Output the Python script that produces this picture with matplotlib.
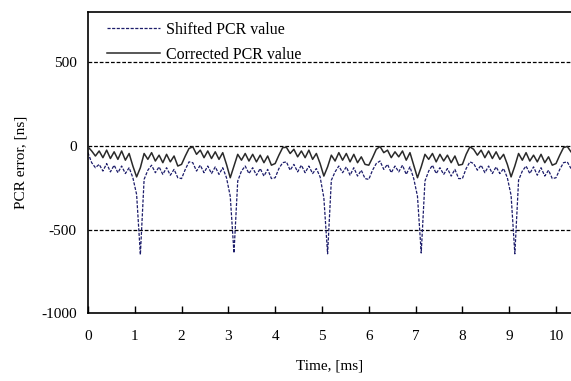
import numpy as np
import matplotlib.pyplot as plt

plt.rcParams['font.family'] = ['Liberation Serif', 'DejaVu Serif']
plt.rcParams['axes.unicode_minus'] = False

# sample step of the recorded trace, ms
STEP = 0.08

corrected = [
    -5, -30, -60, -30, -70, -25, -75, -35, -80, -30, -85, -45, -120,
    -185, -130, -45, -80, -40, -90, -55, -100, -50, -95, -60, -120,
    -110, -60, -15, -5, -50, -25, -70, -30, -75, -35, -80, -40, -110,
    -190, -120, -50, -85, -45, -90, -50, -95, -55, -100, -60, -115,
    -105, -55, -10, -8, -45, -20, -65, -30, -70, -25, -80, -45, -105,
    -180, -125, -55, -90, -40, -85, -45, -95, -50, -100, -65, -110,
    -115, -70, -20, -3, -40, -25, -70, -35, -65, -30, -85, -40, -115,
    -190, -125, -50, -80, -45, -95, -50, -90, -55, -100, -60, -115,
    -110, -50, -5, -20, -55, -25, -70, -30, -75, -35, -80, -50, -110,
    -185, -120, -45, -85, -40, -90, -55, -95, -50, -100, -65, -115,
    -105, -55, -10, -3, -35,
]

shifted = [
    -40, -100, -130, -110, -150, -105, -155, -115, -160, -120, -165, -130, -190,
    -290, -650, -200, -145, -115, -160, -125, -170, -130, -175, -140, -190,
    -195, -140, -95, -100, -150, -115, -160, -120, -165, -125, -170, -130, -190,
    -300, -640, -210, -150, -120, -165, -130, -175, -135, -180, -140, -195,
    -190, -135, -100, -95, -145, -110, -155, -115, -160, -120, -165, -135, -185,
    -310, -645, -205, -155, -120, -160, -125, -175, -130, -180, -145, -195,
    -200, -145, -105, -90, -140, -110, -160, -120, -155, -115, -170, -125, -195,
    -300, -640, -210, -150, -115, -165, -130, -170, -135, -180, -140, -195,
    -195, -135, -95, -105, -145, -115, -160, -120, -165, -125, -165, -135, -190,
    -295, -645, -205, -150, -120, -165, -125, -175, -130, -180, -145, -195,
    -190, -140, -100, -95, -135,
]

time_ms = np.arange(len(corrected)) * STEP

x_ticks = [0, 1, 2, 3, 4, 5, 6, 7, 8, 9, 10]
y_ticks = [-1000, -500, 0, 500]
ref_levels = [500, 0, -500]

fig = plt.figure(figsize=(5.71, 3.81), dpi=100)
ax = fig.add_axes([0.154, 0.178, 0.846, 0.790])

for lvl in ref_levels:
    ax.axhline(lvl, color='black', linestyle=(0, (3, 1.5)), linewidth=0.9, zorder=1)

ax.plot(time_ms, shifted, color='#1c1c6a', linestyle=(0, (2.5, 1.2)), linewidth=0.9,
        label='Shifted PCR value', zorder=2)
ax.plot(time_ms, corrected, color='#2a2a2a', linestyle='-', linewidth=1.1,
        label='Corrected PCR value', zorder=3)

ax.set_xlim(0, 10.32)
ax.set_ylim(-1000, 800)
ax.set_xticks(x_ticks)
ax.set_yticks(y_ticks)

ax.tick_params(axis='x', direction='in', length=5, width=1, pad=12, labelsize=11)
ax.tick_params(axis='y', length=0, pad=8, labelsize=11)

ax.spines['right'].set_visible(False)
for side in ['left', 'bottom', 'top']:
    ax.spines[side].set_linewidth(1.2)

ax.set_xlabel('Time, [ms]', fontsize=11, labelpad=12)
ax.set_ylabel('PCR error, [ns]', fontsize=11, labelpad=10)

ax.legend(loc='upper left', frameon=False, fontsize=11.5, handlelength=3.3,
          handletextpad=0.4, labelspacing=0.55, borderaxespad=0.2,
          bbox_to_anchor=(0.02, 1.0))

fig.savefig('out.png', dpi=100)
